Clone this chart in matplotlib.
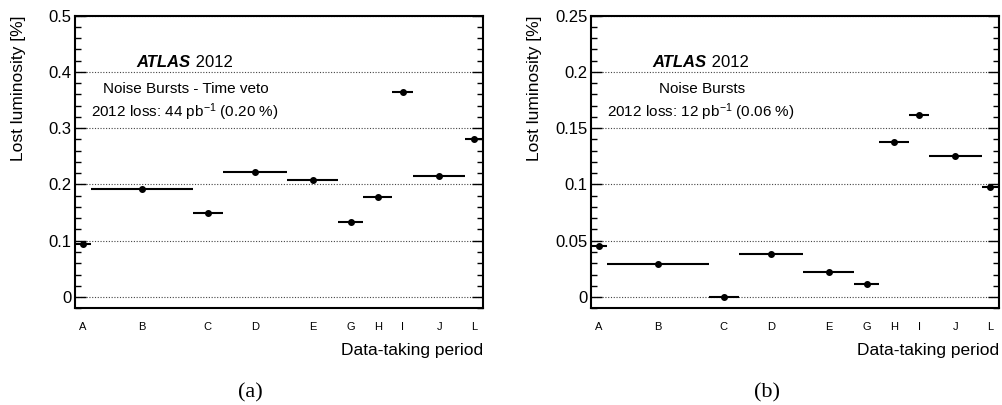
import matplotlib
matplotlib.use('Agg')
import matplotlib.pyplot as plt
import numpy as np
from matplotlib.ticker import MultipleLocator

plt.rcParams['font.family'] = ['Liberation Sans', 'DejaVu Sans']
plt.rcParams['mathtext.fontset'] = 'custom'
plt.rcParams['mathtext.rm'] = 'Liberation Sans'
plt.rcParams['mathtext.it'] = 'Liberation Sans:italic'
plt.rcParams['mathtext.bf'] = 'Liberation Sans:bold'

# ---- data ----
periods = ['A', 'B', 'C', 'D', 'E', 'G', 'H', 'I', 'J', 'L']
# integrated luminosity per data-taking period [fb^-1] (sets bin widths)
period_lumi = [0.80, 5.15, 1.52, 3.26, 2.57, 1.27, 1.48, 1.04, 2.64, 0.88]
# lost luminosity [%]
loss_time_veto = [0.094, 0.192, 0.150, 0.222, 0.2075, 0.1335, 0.177, 0.364, 0.215, 0.280]
loss_noise_bursts = [0.0452, 0.0289, 0.0, 0.0381, 0.0218, 0.0112, 0.138, 0.1616, 0.1255, 0.0975]

yticks_a = [0, 0.1, 0.2, 0.3, 0.4, 0.5]
ytick_labels_a = ['0', '0.1', '0.2', '0.3', '0.4', '0.5']
yticks_b = [0, 0.05, 0.1, 0.15, 0.2, 0.25]
ytick_labels_b = ['0', '0.05', '0.1', '0.15', '0.2', '0.25']

title_a = 'Noise Bursts - Time veto'
title_b = 'Noise Bursts'
loss_a = r'2012 loss: 44 pb$^{-1}$ (0.20 %)'
loss_b = r'2012 loss: 12 pb$^{-1}$ (0.06 %)'

fig = plt.figure(figsize=(10.02, 4.05), dpi=100)
axa = fig.add_axes([0.0749, 0.2388, 0.4068, 0.7229])
axb = fig.add_axes([0.5898, 0.2388, 0.4072, 0.7229])


def draw(ax, vals, ylim, yticks, ylabels, minor, title, loss):
    edges = np.concatenate([[0.0], np.cumsum(period_lumi)])
    centers = (edges[:-1] + edges[1:]) / 2
    half = np.diff(edges) / 2
    ax.set_xlim(edges[0], edges[-1])
    ax.set_ylim(*ylim)
    ax.yaxis.grid(True, linestyle=(0, (1, 1.5)), color='#444444', lw=0.8)
    ax.set_axisbelow(True)
    ax.errorbar(centers, vals, xerr=half, fmt='o', color='black', ms=4,
                elinewidth=1.5, capsize=0, zorder=3)
    ax.set_xticks(centers, periods)
    ax.tick_params(axis='x', length=0, pad=10, labelsize=8)
    ax.set_yticks(yticks, ylabels)
    ax.yaxis.set_minor_locator(MultipleLocator(minor))
    ax.tick_params(axis='y', which='both', direction='in', left=True, right=True,
                   labelsize=12, pad=2.5, width=1.0)
    ax.tick_params(axis='y', which='major', length=8)
    ax.tick_params(axis='y', which='minor', length=4)
    for s in ax.spines.values():
        s.set_linewidth(1.5)
    ax.set_ylabel('Lost luminosity [%]', fontsize=12.5, loc='top')
    ax.yaxis.set_label_coords(-0.12, 1.0)
    ax.set_xlabel('Data-taking period', fontsize=12.5, loc='right', va='baseline')
    ax.xaxis.set_label_coords(1.0, -0.1595)
    t = ax.text(0.151, 0.825, 'ATLAS', transform=ax.transAxes, fontsize=12,
                fontweight='bold', fontstyle='italic', va='baseline', ha='left')
    ax.annotate(' 2012', xy=(1, 0), xycoords=t, va='bottom', ha='left', fontsize=12)
    ax.text(0.272, 0.734, title, transform=ax.transAxes, fontsize=11,
            ha='center', va='baseline')
    ax.text(0.27, 0.652, loss, transform=ax.transAxes, fontsize=11,
            ha='center', va='baseline')


draw(axa, loss_time_veto, (-0.02, 0.5), yticks_a, ytick_labels_a, 0.02, title_a, loss_a)
draw(axb, loss_noise_bursts, (-0.01, 0.25), yticks_b, ytick_labels_b, 0.01, title_b, loss_b)

fig.text(0.25, 0.0296, '(a)', family='Liberation Serif', fontsize=16, ha='center', va='center')
fig.text(0.765, 0.0296, '(b)', family='Liberation Serif', fontsize=16, ha='center', va='center')

fig.savefig('out.png', dpi=100)
